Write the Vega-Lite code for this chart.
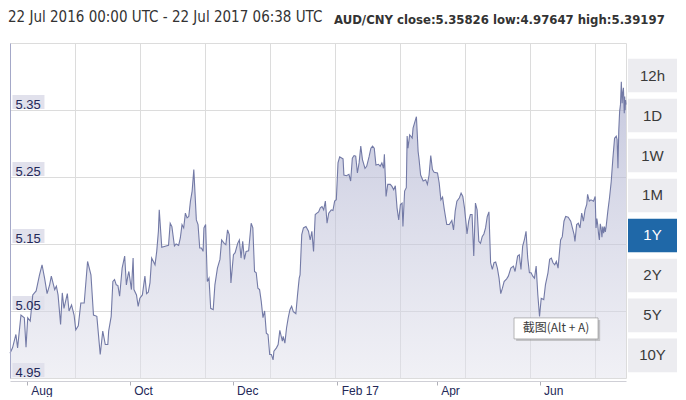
{
  "$schema": "https://vega.github.io/schema/vega-lite/v6.json",
  "autosize": {"type": "pad"},
  "padding": {"left": 7, "top": 9, "right": 0, "bottom": 0},
  "background": "#ffffff",
  "bounds": "flush",
  "spacing": 2,
  "config": {"font": "Liberation Sans"},
  "hconcat": [
    {
      "width": 616,
      "height": 335,
      "view": {"stroke": "#dcdcdc", "strokeWidth": 1},
      "title": {"text": "22 Jul 2016 00:00 UTC - 22 Jul 2017 06:38 UTC", "anchor": "start", "frame": "group", "dx": -2, "offset": 6, "baseline": "alphabetic", "font": "Liberation Sans Narrow, DejaVu Sans Condensed, sans-serif", "fontSize": 15, "fontWeight": "normal", "color": "#333333"},
      "data": {"values": [
        {"t":"2016-07-22T00:00","v":4.987},{"t":"2016-07-23T12:00","v":4.995},{"t":"2016-07-25T12:00","v":5.015},{"t":"2016-07-26T12:00","v":4.995},
        {"t":"2016-07-28T12:00","v":5.044},{"t":"2016-07-30T12:00","v":5.040},{"t":"2016-07-31T12:00","v":4.996},{"t":"2016-08-01T12:00","v":5.040},
        {"t":"2016-08-03T00:00","v":5.035},{"t":"2016-08-04T12:00","v":5.074},{"t":"2016-08-06T12:00","v":5.080},{"t":"2016-08-08T12:00","v":5.104},
        {"t":"2016-08-10T00:00","v":5.119},{"t":"2016-08-11T12:00","v":5.099},{"t":"2016-08-13T00:00","v":5.076},{"t":"2016-08-14T12:00","v":5.089},
        {"t":"2016-08-15T12:00","v":5.102},{"t":"2016-08-17T12:00","v":5.082},{"t":"2016-08-18T12:00","v":5.087},{"t":"2016-08-19T12:00","v":5.074},
        {"t":"2016-08-21T00:00","v":5.030},{"t":"2016-08-22T00:00","v":5.077},{"t":"2016-08-23T00:00","v":5.054},{"t":"2016-08-25T00:00","v":5.076},
        {"t":"2016-08-26T00:00","v":5.050},{"t":"2016-08-27T12:00","v":5.059},{"t":"2016-08-29T00:00","v":5.044},{"t":"2016-08-30T00:00","v":5.022},
        {"t":"2016-08-31T12:00","v":5.028},{"t":"2016-09-02T00:00","v":5.062},{"t":"2016-09-04T00:00","v":5.062},{"t":"2016-09-06T00:00","v":5.124},
        {"t":"2016-09-08T00:00","v":5.104},{"t":"2016-09-09T12:00","v":5.044},{"t":"2016-09-11T12:00","v":5.042},{"t":"2016-09-13T12:00","v":4.985},
        {"t":"2016-09-15T00:00","v":5.020},{"t":"2016-09-16T12:00","v":5.000},{"t":"2016-09-18T00:00","v":5.000},{"t":"2016-09-18T12:00","v":5.020},
        {"t":"2016-09-20T00:00","v":5.042},{"t":"2016-09-21T00:00","v":5.094},{"t":"2016-09-22T00:00","v":5.097},{"t":"2016-09-23T00:00","v":5.089},
        {"t":"2016-09-24T00:00","v":5.088},{"t":"2016-09-25T00:00","v":5.072},{"t":"2016-09-26T12:00","v":5.114},{"t":"2016-09-28T00:00","v":5.132},
        {"t":"2016-09-29T00:00","v":5.089},{"t":"2016-09-30T00:00","v":5.104},{"t":"2016-09-30T12:00","v":5.109},{"t":"2016-10-02T00:00","v":5.082},
        {"t":"2016-10-03T00:00","v":5.129},{"t":"2016-10-03T12:00","v":5.082},{"t":"2016-10-05T00:00","v":5.074},{"t":"2016-10-06T00:00","v":5.057},
        {"t":"2016-10-07T00:00","v":5.069},{"t":"2016-10-08T12:00","v":5.074},{"t":"2016-10-10T00:00","v":5.102},{"t":"2016-10-11T00:00","v":5.076},
        {"t":"2016-10-12T00:00","v":5.078},{"t":"2016-10-13T00:00","v":5.092},{"t":"2016-10-14T00:00","v":5.129},{"t":"2016-10-16T00:00","v":5.119},
        {"t":"2016-10-17T00:00","v":5.139},{"t":"2016-10-18T00:00","v":5.169},{"t":"2016-10-18T12:00","v":5.201},{"t":"2016-10-20T00:00","v":5.145},
        {"t":"2016-10-22T12:00","v":5.147},{"t":"2016-10-24T00:00","v":5.148},{"t":"2016-10-25T00:00","v":5.181},{"t":"2016-10-26T00:00","v":5.176},
        {"t":"2016-10-27T12:00","v":5.147},{"t":"2016-10-28T12:00","v":5.150},{"t":"2016-10-30T00:00","v":5.148},{"t":"2016-10-31T00:00","v":5.159},
        {"t":"2016-11-01T00:00","v":5.179},{"t":"2016-11-02T00:00","v":5.174},{"t":"2016-11-03T00:00","v":5.196},{"t":"2016-11-04T00:00","v":5.189},
        {"t":"2016-11-05T00:00","v":5.191},{"t":"2016-11-06T00:00","v":5.214},{"t":"2016-11-07T00:00","v":5.229},{"t":"2016-11-08T00:00","v":5.261},
        {"t":"2016-11-09T12:00","v":5.186},{"t":"2016-11-10T12:00","v":5.179},{"t":"2016-11-11T12:00","v":5.144},{"t":"2016-11-12T12:00","v":5.144},
        {"t":"2016-11-13T12:00","v":5.139},{"t":"2016-11-14T00:00","v":5.174},{"t":"2016-11-15T00:00","v":5.179},{"t":"2016-11-16T00:00","v":5.094},
        {"t":"2016-11-17T00:00","v":5.099},{"t":"2016-11-18T00:00","v":5.054},{"t":"2016-11-19T12:00","v":5.052},{"t":"2016-11-20T12:00","v":5.089},
        {"t":"2016-11-22T00:00","v":5.114},{"t":"2016-11-23T12:00","v":5.127},{"t":"2016-11-24T12:00","v":5.156},{"t":"2016-11-26T00:00","v":5.151},
        {"t":"2016-11-27T00:00","v":5.149},{"t":"2016-11-28T00:00","v":5.171},{"t":"2016-11-29T00:00","v":5.164},{"t":"2016-11-30T00:00","v":5.092},
        {"t":"2016-12-01T12:00","v":5.134},{"t":"2016-12-02T12:00","v":5.137},{"t":"2016-12-04T00:00","v":5.151},{"t":"2016-12-05T00:00","v":5.156},
        {"t":"2016-12-06T00:00","v":5.129},{"t":"2016-12-07T00:00","v":5.154},{"t":"2016-12-08T00:00","v":5.127},{"t":"2016-12-09T00:00","v":5.139},
        {"t":"2016-12-10T12:00","v":5.140},{"t":"2016-12-12T00:00","v":5.181},{"t":"2016-12-13T00:00","v":5.174},{"t":"2016-12-14T00:00","v":5.109},
        {"t":"2016-12-15T00:00","v":5.107},{"t":"2016-12-16T00:00","v":5.084},{"t":"2016-12-17T00:00","v":5.082},{"t":"2016-12-18T00:00","v":5.064},
        {"t":"2016-12-19T00:00","v":5.040},{"t":"2016-12-20T00:00","v":5.050},{"t":"2016-12-21T00:00","v":5.017},{"t":"2016-12-22T00:00","v":5.015},
        {"t":"2016-12-23T00:00","v":4.985},{"t":"2016-12-24T00:00","v":4.985},{"t":"2016-12-25T00:00","v":4.977},{"t":"2016-12-25T12:00","v":4.990},
        {"t":"2016-12-27T00:00","v":4.995},{"t":"2016-12-28T00:00","v":5.000},{"t":"2016-12-29T00:00","v":5.021},{"t":"2016-12-30T12:00","v":5.005},
        {"t":"2016-12-31T00:00","v":5.012},{"t":"2017-01-01T00:00","v":5.002},{"t":"2017-01-02T00:00","v":5.025},{"t":"2017-01-03T00:00","v":5.040},
        {"t":"2017-01-04T00:00","v":5.052},{"t":"2017-01-05T00:00","v":5.057},{"t":"2017-01-06T00:00","v":5.049},{"t":"2017-01-07T12:00","v":5.046},
        {"t":"2017-01-08T12:00","v":5.074},{"t":"2017-01-09T12:00","v":5.099},{"t":"2017-01-10T00:00","v":5.104},{"t":"2017-01-11T00:00","v":5.164},
        {"t":"2017-01-12T00:00","v":5.174},{"t":"2017-01-13T12:00","v":5.176},{"t":"2017-01-15T00:00","v":5.169},{"t":"2017-01-16T00:00","v":5.156},
        {"t":"2017-01-17T00:00","v":5.169},{"t":"2017-01-18T00:00","v":5.139},{"t":"2017-01-19T00:00","v":5.194},{"t":"2017-01-20T00:00","v":5.196},
        {"t":"2017-01-21T00:00","v":5.198},{"t":"2017-01-22T00:00","v":5.204},{"t":"2017-01-23T00:00","v":5.206},{"t":"2017-01-24T00:00","v":5.201},
        {"t":"2017-01-25T00:00","v":5.214},{"t":"2017-01-26T00:00","v":5.181},{"t":"2017-01-27T00:00","v":5.196},{"t":"2017-01-28T12:00","v":5.201},
        {"t":"2017-01-29T12:00","v":5.200},{"t":"2017-01-30T12:00","v":5.214},{"t":"2017-01-31T12:00","v":5.216},{"t":"2017-02-01T12:00","v":5.271},
        {"t":"2017-02-02T12:00","v":5.280},{"t":"2017-02-04T12:00","v":5.277},{"t":"2017-02-05T00:00","v":5.253},{"t":"2017-02-06T12:00","v":5.252},
        {"t":"2017-02-08T00:00","v":5.254},{"t":"2017-02-09T00:00","v":5.244},{"t":"2017-02-10T00:00","v":5.278},{"t":"2017-02-11T00:00","v":5.282},
        {"t":"2017-02-12T00:00","v":5.281},{"t":"2017-02-13T00:00","v":5.256},{"t":"2017-02-14T00:00","v":5.271},{"t":"2017-02-15T00:00","v":5.296},
        {"t":"2017-02-16T00:00","v":5.276},{"t":"2017-02-17T12:00","v":5.263},{"t":"2017-02-18T12:00","v":5.266},{"t":"2017-02-20T00:00","v":5.281},
        {"t":"2017-02-21T00:00","v":5.293},{"t":"2017-02-22T00:00","v":5.296},{"t":"2017-02-23T00:00","v":5.293},{"t":"2017-02-24T00:00","v":5.268},
        {"t":"2017-02-25T12:00","v":5.269},{"t":"2017-02-26T12:00","v":5.266},{"t":"2017-02-27T12:00","v":5.271},{"t":"2017-02-28T12:00","v":5.263},
        {"t":"2017-03-01T00:00","v":5.284},{"t":"2017-03-02T00:00","v":5.221},{"t":"2017-03-03T00:00","v":5.239},{"t":"2017-03-04T12:00","v":5.239},
        {"t":"2017-03-05T12:00","v":5.236},{"t":"2017-03-06T12:00","v":5.231},{"t":"2017-03-07T12:00","v":5.237},{"t":"2017-03-08T12:00","v":5.204},
        {"t":"2017-03-09T12:00","v":5.186},{"t":"2017-03-10T12:00","v":5.209},{"t":"2017-03-11T12:00","v":5.211},{"t":"2017-03-12T00:00","v":5.176},
        {"t":"2017-03-13T00:00","v":5.229},{"t":"2017-03-14T00:00","v":5.234},{"t":"2017-03-14T12:00","v":5.311},{"t":"2017-03-15T00:00","v":5.293},
        {"t":"2017-03-16T00:00","v":5.313},{"t":"2017-03-17T12:00","v":5.308},{"t":"2017-03-18T00:00","v":5.323},{"t":"2017-03-20T00:00","v":5.340},
        {"t":"2017-03-21T00:00","v":5.288},{"t":"2017-03-21T12:00","v":5.278},{"t":"2017-03-22T12:00","v":5.253},{"t":"2017-03-24T00:00","v":5.244},
        {"t":"2017-03-25T12:00","v":5.246},{"t":"2017-03-26T12:00","v":5.239},{"t":"2017-03-27T12:00","v":5.253},{"t":"2017-03-28T12:00","v":5.282},
        {"t":"2017-03-29T12:00","v":5.261},{"t":"2017-03-30T12:00","v":5.257},{"t":"2017-04-01T12:00","v":5.256},{"t":"2017-04-02T12:00","v":5.241},
        {"t":"2017-04-03T12:00","v":5.216},{"t":"2017-04-04T12:00","v":5.220},{"t":"2017-04-05T12:00","v":5.202},{"t":"2017-04-07T00:00","v":5.179},
        {"t":"2017-04-08T12:00","v":5.179},{"t":"2017-04-10T00:00","v":5.185},{"t":"2017-04-11T00:00","v":5.171},{"t":"2017-04-12T00:00","v":5.199},
        {"t":"2017-04-13T00:00","v":5.214},{"t":"2017-04-14T12:00","v":5.219},{"t":"2017-04-15T12:00","v":5.226},{"t":"2017-04-16T12:00","v":5.221},
        {"t":"2017-04-17T12:00","v":5.204},{"t":"2017-04-18T12:00","v":5.179},{"t":"2017-04-19T00:00","v":5.165},{"t":"2017-04-20T00:00","v":5.184},
        {"t":"2017-04-21T00:00","v":5.194},{"t":"2017-04-22T00:00","v":5.194},{"t":"2017-04-23T00:00","v":5.132},{"t":"2017-04-24T00:00","v":5.211},
        {"t":"2017-04-25T00:00","v":5.201},{"t":"2017-04-26T00:00","v":5.154},{"t":"2017-04-27T00:00","v":5.151},{"t":"2017-04-28T00:00","v":5.161},
        {"t":"2017-04-29T00:00","v":5.165},{"t":"2017-04-30T00:00","v":5.174},{"t":"2017-05-01T00:00","v":5.191},{"t":"2017-05-02T00:00","v":5.198},
        {"t":"2017-05-03T00:00","v":5.122},{"t":"2017-05-04T00:00","v":5.112},{"t":"2017-05-05T00:00","v":5.122},{"t":"2017-05-06T00:00","v":5.123},
        {"t":"2017-05-07T00:00","v":5.114},{"t":"2017-05-08T00:00","v":5.099},{"t":"2017-05-09T00:00","v":5.076},{"t":"2017-05-10T00:00","v":5.084},
        {"t":"2017-05-11T00:00","v":5.094},{"t":"2017-05-12T12:00","v":5.098},{"t":"2017-05-13T12:00","v":5.102},{"t":"2017-05-15T00:00","v":5.114},
        {"t":"2017-05-16T12:00","v":5.117},{"t":"2017-05-17T12:00","v":5.109},{"t":"2017-05-19T00:00","v":5.132},{"t":"2017-05-20T00:00","v":5.134},
        {"t":"2017-05-21T00:00","v":5.112},{"t":"2017-05-22T00:00","v":5.147},{"t":"2017-05-23T00:00","v":5.156},{"t":"2017-05-24T00:00","v":5.169},
        {"t":"2017-05-25T00:00","v":5.129},{"t":"2017-05-26T00:00","v":5.107},{"t":"2017-05-27T00:00","v":5.107},{"t":"2017-05-28T00:00","v":5.102},
        {"t":"2017-05-29T00:00","v":5.099},{"t":"2017-05-30T00:00","v":5.117},{"t":"2017-05-31T00:00","v":5.074},{"t":"2017-06-01T00:00","v":5.042},
        {"t":"2017-06-02T00:00","v":5.069},{"t":"2017-06-03T12:00","v":5.067},{"t":"2017-06-04T12:00","v":5.089},{"t":"2017-06-06T00:00","v":5.107},
        {"t":"2017-06-07T00:00","v":5.127},{"t":"2017-06-08T00:00","v":5.129},{"t":"2017-06-09T00:00","v":5.122},{"t":"2017-06-10T00:00","v":5.119},
        {"t":"2017-06-11T00:00","v":5.124},{"t":"2017-06-12T00:00","v":5.114},{"t":"2017-06-12T12:00","v":5.129},{"t":"2017-06-13T12:00","v":5.156},
        {"t":"2017-06-14T12:00","v":5.161},{"t":"2017-06-15T12:00","v":5.184},{"t":"2017-06-16T12:00","v":5.191},{"t":"2017-06-18T00:00","v":5.190},
        {"t":"2017-06-19T12:00","v":5.184},{"t":"2017-06-20T12:00","v":5.174},{"t":"2017-06-21T12:00","v":5.164},{"t":"2017-06-22T00:00","v":5.154},
        {"t":"2017-06-23T00:00","v":5.179},{"t":"2017-06-24T00:00","v":5.181},{"t":"2017-06-25T00:00","v":5.174},{"t":"2017-06-26T00:00","v":5.196},
        {"t":"2017-06-27T00:00","v":5.184},{"t":"2017-06-28T00:00","v":5.201},{"t":"2017-06-29T00:00","v":5.209},{"t":"2017-06-29T12:00","v":5.224},
        {"t":"2017-06-30T12:00","v":5.214},{"t":"2017-07-01T12:00","v":5.216},{"t":"2017-07-03T00:00","v":5.214},{"t":"2017-07-04T00:00","v":5.221},
        {"t":"2017-07-04T12:00","v":5.174},{"t":"2017-07-05T00:00","v":5.188},{"t":"2017-07-05T12:00","v":5.179},{"t":"2017-07-06T00:00","v":5.165},
        {"t":"2017-07-06T12:00","v":5.156},{"t":"2017-07-07T00:00","v":5.180},{"t":"2017-07-07T12:00","v":5.174},{"t":"2017-07-08T00:00","v":5.160},
        {"t":"2017-07-08T12:00","v":5.176},{"t":"2017-07-09T00:00","v":5.166},{"t":"2017-07-09T12:00","v":5.176},{"t":"2017-07-10T00:00","v":5.168},
        {"t":"2017-07-10T12:00","v":5.176},{"t":"2017-07-11T12:00","v":5.199},{"t":"2017-07-12T12:00","v":5.219},{"t":"2017-07-13T12:00","v":5.243},
        {"t":"2017-07-14T12:00","v":5.278},{"t":"2017-07-15T12:00","v":5.308},{"t":"2017-07-16T12:00","v":5.311},{"t":"2017-07-17T00:00","v":5.306},
        {"t":"2017-07-17T12:00","v":5.263},{"t":"2017-07-18T00:00","v":5.320},{"t":"2017-07-18T12:00","v":5.348},{"t":"2017-07-19T00:00","v":5.358},
        {"t":"2017-07-19T12:00","v":5.392},{"t":"2017-07-20T00:00","v":5.360},{"t":"2017-07-20T06:00","v":5.373},{"t":"2017-07-20T18:00","v":5.383},
        {"t":"2017-07-21T06:00","v":5.345},{"t":"2017-07-21T12:00","v":5.370},{"t":"2017-07-21T18:00","v":5.350},{"t":"2017-07-22T00:00","v":5.365},
        {"t":"2017-07-22T06:38","v":5.358}
      ]},
      "resolve": {"axis": {"x": "independent", "y": "independent"}},
      "layer": [
        {
          "mark": {"type": "area", "line": false, "color": {"gradient": "linear", "x1": 0, "y1": 1, "x2": 0, "y2": 0, "stops": [{"offset": 0, "color": "rgba(226,226,236,0.5)"}, {"offset": 1, "color": "rgba(160,164,200,0.6)"}]}},
          "encoding": {
            "x": {"field": "t", "type": "temporal",
              "scale": {"domain": [{"year": 2016, "month": 7, "date": 22}, {"year": 2017, "month": 7, "date": 22, "hours": 6, "minutes": 38}]},
              "axis": {"orient": "bottom", "values": [
                {"year": 2016, "month": 8, "date": 29, "hours": 13}, {"year": 2016, "month": 10, "date": 7, "hours": 2},
                {"year": 2016, "month": 11, "date": 14, "hours": 15}, {"year": 2016, "month": 12, "date": 23, "hours": 4},
                {"year": 2017, "month": 1, "date": 30, "hours": 17}, {"year": 2017, "month": 3, "date": 10, "hours": 6},
                {"year": 2017, "month": 4, "date": 17, "hours": 19}, {"year": 2017, "month": 5, "date": 26, "hours": 8},
                {"year": 2017, "month": 7, "date": 3, "hours": 21}],
                "grid": true, "gridColor": "#dcdcdc", "gridWidth": 1, "labels": false, "ticks": false, "domain": false, "title": null, "zindex": 0}},
            "y": {"field": "v", "type": "quantitative", "scale": {"domain": [4.95, 5.45], "zero": false, "nice": false},
              "axis": {"orient": "left", "values": [5.05, 5.15, 5.25, 5.35], "grid": true, "gridColor": "#dcdcdc", "labels": false, "ticks": false, "domain": false, "title": null, "zindex": 0}},
            "y2": {"datum": 4.95}
          }
        },
        {
          "data": {"values": [{"tick": 4.95, "at": "2016-08-01T23:00"}, {"tick": 5.05, "at": "2016-08-01T23:00"}, {"tick": 5.15, "at": "2016-08-01T23:00"}, {"tick": 5.25, "at": "2016-08-01T23:00"}, {"tick": 5.35, "at": "2016-08-01T23:00"}]},
          "layer": [
            {"mark": {"type": "point", "shape": "M-1,-0.94H1V-0.06H-1Z", "filled": true, "size": 1024, "color": "#e1e1ec", "opacity": 1, "strokeWidth": 0}}
          ],
          "encoding": {
            "x": {"field": "at", "type": "temporal", "axis": null,
              "scale": {"domain": [{"year": 2016, "month": 7, "date": 22}, {"year": 2017, "month": 7, "date": 22, "hours": 6, "minutes": 38}]}},
            "y": {"field": "tick", "type": "quantitative", "axis": null, "scale": {"domain": [4.95, 5.45], "zero": false, "nice": false}}
          }
        },
        {
          "mark": {"type": "line", "color": "#737aa6", "strokeWidth": 1.1},
          "encoding": {
            "x": {"field": "t", "type": "temporal",
              "scale": {"domain": [{"year": 2016, "month": 7, "date": 22}, {"year": 2017, "month": 7, "date": 22, "hours": 6, "minutes": 38}]},
              "axis": {"orient": "bottom", "values": [
                {"year": 2016, "month": 8, "date": 1}, {"year": 2016, "month": 10, "date": 1}, {"year": 2016, "month": 12, "date": 1},
                {"year": 2017, "month": 2, "date": 1}, {"year": 2017, "month": 4, "date": 1}, {"year": 2017, "month": 6, "date": 1}],
                "labelExpr": "month(datum.value) == 1 ? timeFormat(datum.value, '%b %y') : timeFormat(datum.value, '%b')",
                "grid": false, "ticks": true, "tickSize": 4, "tickColor": "#b0b0b8", "domain": true, "domainColor": "#cfcfd6", "offset": 3,
                "labelAlign": "left", "labelOffset": 4, "labelPadding": 0, "labelFontSize": 12, "labelColor": "#232858", "labelFont": "Liberation Sans",
                "labelFlush": false, "labelOverlap": false, "labelBound": false, "title": null}},
            "y": {"field": "v", "type": "quantitative", "scale": {"domain": [4.95, 5.45], "zero": false, "nice": false},
              "axis": {"orient": "left", "values": [4.95, 5.05, 5.15, 5.25, 5.35], "format": ".2f", "grid": false, "ticks": false, "tickSize": 0, "domain": true, "domainColor": "#a4a8c8",
                "labelAlign": "left", "labelBaseline": "alphabetic", "labelPadding": -5, "labelOffset": -2, "labelFontSize": 13, "labelColor": "#232858", "labelFont": "Liberation Sans",
                "labelFlush": false, "labelOverlap": false, "labelBound": false, "title": null, "zindex": 2}}
          }
        },
        {
          "data": {"values": [{"at": "2017-06-10T19:00", "lvl": 5.024, "note": "截图(Alt + A)"}]},
          "layer": [
            {"mark": {"type": "point", "shape": "M-0.95,-0.2H1.05V0.3H-0.95Z", "filled": true, "size": 7056, "color": "#9a9a9a", "opacity": 0.5, "strokeWidth": 0}},
            {"mark": {"type": "point", "shape": "M-1,-0.25H1V0.25H-1Z", "filled": true, "size": 7056, "fill": "#ffffff", "stroke": "#8c8c8c", "strokeWidth": 0.6, "opacity": 1}},
            {"mark": {"type": "text", "font": "Noto Sans CJK SC", "fontSize": 12, "color": "#3c3c3c", "align": "center", "baseline": "middle"}, "encoding": {"text": {"field": "note"}}}
          ],
          "encoding": {
            "x": {"field": "at", "type": "temporal", "axis": null,
              "scale": {"domain": [{"year": 2016, "month": 7, "date": 22}, {"year": 2017, "month": 7, "date": 22, "hours": 6, "minutes": 38}]}},
            "y": {"field": "lvl", "type": "quantitative", "axis": null, "scale": {"domain": [4.95, 5.45], "zero": false, "nice": false}}
          }
        }
      ]
    },
    {
      "width": 49,
      "height": 335,
      "view": {"stroke": null},
      "title": {"text": "AUD/CNY close:5.35826 low:4.97647 high:5.39197", "anchor": "start", "frame": "group", "dx": -294, "offset": 6, "baseline": "alphabetic", "font": "Liberation Sans Narrow, DejaVu Sans Condensed, sans-serif", "fontSize": 13, "fontWeight": "bold", "color": "#333333"},
      "data": {"values": [
        {"range": "12h", "active": false}, {"range": "1D", "active": false}, {"range": "1W", "active": false}, {"range": "1M", "active": false},
        {"range": "1Y", "active": true}, {"range": "2Y", "active": false}, {"range": "5Y", "active": false}, {"range": "10Y", "active": false}
      ]},
      "layer": [
        {
          "mark": {"type": "bar"},
          "encoding": {
            "y": {"field": "range", "type": "nominal", "sort": null, "axis": null, "scale": {"paddingInner": 0.16, "paddingOuter": 0.27, "align": 0.73}},
            "x": {"datum": 1, "type": "quantitative", "scale": {"domain": [0, 1]}, "axis": null},
            "color": {"condition": {"test": "datum.active", "value": "#1f68a8"}, "value": "#ececf0"}
          }
        },
        {
          "mark": {"type": "text", "fontSize": 15, "font": "Liberation Sans", "align": "center", "baseline": "middle"},
          "encoding": {
            "y": {"field": "range", "type": "nominal", "sort": null, "axis": null},
            "x": {"datum": 0.5, "type": "quantitative", "axis": null},
            "text": {"field": "range"},
            "color": {"condition": {"test": "datum.active", "value": "#ffffff"}, "value": "#3a3a3a"}
          }
        }
      ]
    }
  ]
}
